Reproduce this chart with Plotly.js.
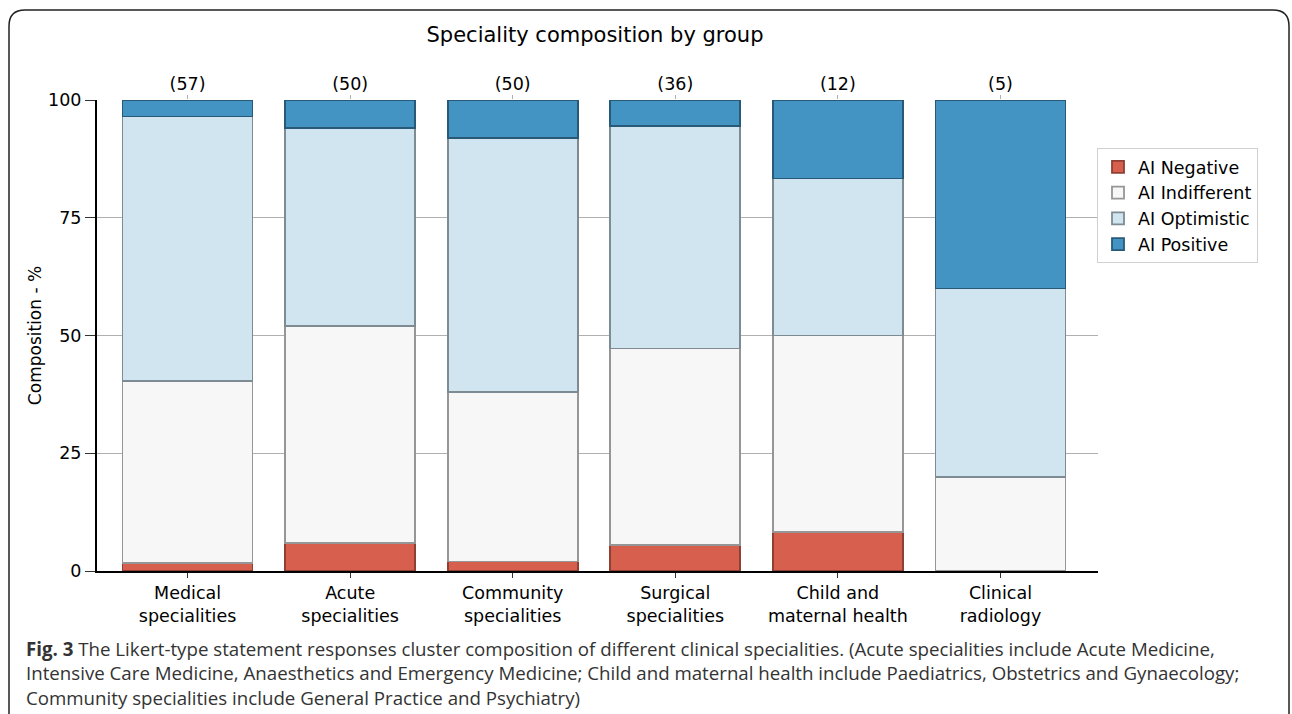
<!DOCTYPE html>
<html>
<head>
<meta charset="utf-8">
<script src="https://cdn.plot.ly/plotly-3.0.1.min.js"></script>
<style>html,body{margin:0;padding:0;background:#fff;}#chart{width:1292px;height:714px;}</style>
</head>
<body>
<div id="chart"></div>
<script>
const categories = ["Medical<br>specialities", "Acute<br>specialities", "Community<br>specialities", "Surgical<br>specialities", "Child and<br>maternal health", "Clinical<br>radiology"];
const groupCounts = ["(57)", "(50)", "(50)", "(36)", "(12)", "(5)"];
const aiNegative    = [1.75, 6.0, 2.0, 5.56, 8.33, 0.0];
const aiIndifferent = [38.60, 46.0, 36.0, 41.67, 41.67, 20.0];
const aiOptimistic  = [56.14, 42.0, 54.0, 47.22, 33.33, 40.0];
const aiPositive    = [3.51, 6.0, 8.0, 5.56, 16.67, 40.0];
const seriesNames = ["AI Negative", "AI Indifferent", "AI Optimistic", "AI Positive"];

const fills = ["#d6604d", "#f7f7f7", "#d1e5f0", "#4393c3"];
const edges = ["#8f3f33", "#969696", "#7f8b92", "#285a78"];
const seriesVals = [aiNegative, aiIndifferent, aiOptimistic, aiPositive];
const xs = categories.map((c, i) => i);

const FONT = "DejaVu Sans, sans-serif";
const FS = 17.5;
const traces = seriesVals.map((vals, k) => ({
  type: "bar",
  name: seriesNames[k],
  x: xs,
  y: vals,
  width: 0.8,
  marker: {color: fills[k], line: {color: edges[k], width: 1.8}},
  hoverinfo: "y+name"
}));
// invisible trace to anchor the top axis
traces.push({type: "scatter", x: xs, y: xs.map(() => null), xaxis: "x2", showlegend: false, hoverinfo: "skip", mode: "markers"});

// pixel -> paper helpers for decoration
const L = 97, R = 1098, T = 100, B = 571;
const px = v => (v - L) / (R - L);
const py = v => (B - v) / (B - T);
function borderPath() {
  const x0 = 9, x1 = 1289, y0 = 10, y1 = 740, r = 16;
  return "M " + px(x0) + "," + py(y1) +
    " L " + px(x0) + "," + py(y0 + r) +
    " Q " + px(x0) + "," + py(y0) + " " + px(x0 + r) + "," + py(y0) +
    " L " + px(x1 - r) + "," + py(y0) +
    " Q " + px(x1) + "," + py(y0) + " " + px(x1) + "," + py(y0 + r) +
    " L " + px(x1) + "," + py(y1);
}

const layout = {
  width: 1292, height: 714,
  margin: {l: L, r: 1292 - R, t: T, b: 714 - B, pad: 0},
  paper_bgcolor: "#ffffff", plot_bgcolor: "#ffffff",
  barmode: "stack",
  font: {family: FONT, size: FS, color: "#000"},
  title: {text: "Speciality composition by group", font: {family: FONT, size: 21, color: "#000"}, xref: "paper", x: px(595), xanchor: "center", yref: "container", y: 1 - 35 / 714, yanchor: "middle"},
  xaxis: {
    range: [-0.557, 5.6], tickvals: xs, ticktext: categories,
    showline: true, linecolor: "#000", linewidth: 2,
    ticks: "outside", ticklen: 5, tickcolor: "#333", tickwidth: 1,
    showgrid: false, zeroline: false,
    tickfont: {family: FONT, size: FS, color: "#000"}
  },
  xaxis2: {
    overlaying: "x", side: "top", range: [-0.557, 5.6], tickvals: xs, ticktext: groupCounts,
    ticks: "outside", ticklen: 4, tickcolor: "#b0b0b0", showline: false, showgrid: false, zeroline: false,
    ticklabelstandoff: -2,
    tickfont: {family: FONT, size: FS, color: "#000"}
  },
  yaxis: {
    range: [0, 100], tickvals: [0, 25, 50, 75, 100],
    showline: true, linecolor: "#000", linewidth: 2,
    ticks: "outside", ticklen: 10, tickcolor: "#333", tickwidth: 1,
    ticklabelstandoff: 0,
    showgrid: true, gridcolor: "#b0b0b0", gridwidth: 1, zeroline: false,
    title: {text: "Composition - %", font: {family: FONT, size: 17, color: "#000"}, standoff: 2},
    tickfont: {family: FONT, size: FS, color: "#000"}
  },
  legend: {
    x: px(1097), xanchor: "left", y: py(148), yanchor: "top",
    traceorder: "normal", bordercolor: "#d0d0d0", borderwidth: 1, bgcolor: "#fff",
    font: {family: FONT, size: 17.5, color: "#000"}, tracegroupgap: 0
  },
  shapes: [{type: "path", xref: "paper", yref: "paper", path: borderPath(), line: {color: "#222", width: 1.5}}],
  annotations: [{
    xref: "paper", yref: "paper", x: px(24), y: py(634), xanchor: "left", yanchor: "top", align: "left", showarrow: false,
    font: {family: "Open Sans, sans-serif", size: 18.7, color: "#333"},
    text: "<b>Fig. 3</b> The Likert-type statement responses cluster composition of different clinical specialities. (Acute specialities include Acute Medicine,<br>Intensive Care Medicine, Anaesthetics and Emergency Medicine; Child and maternal health include Paediatrics, Obstetrics and Gynaecology;<br>Community specialities include General Practice and Psychiatry)"
  }]
};

Plotly.newPlot("chart", traces, layout, {displayModeBar: false, responsive: false});
</script>
</body>
</html>
